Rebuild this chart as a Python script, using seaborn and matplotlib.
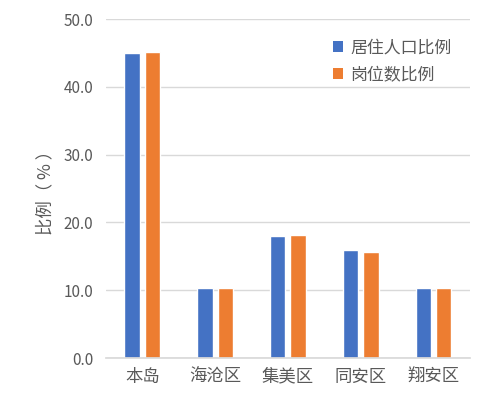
import matplotlib
matplotlib.use("Agg")
import matplotlib.pyplot as plt
import seaborn as sns
import pandas as pd
from matplotlib.ticker import FormatStrFormatter
from matplotlib.patches import Patch

categories = ["本岛", "海沧区", "集美区", "同安区", "翔安区"]
series_names = ["居住人口比例", "岗位数比例"]
resident = [45.0, 10.4, 18.0, 15.9, 10.4]
jobs = [45.2, 10.3, 18.2, 15.7, 10.3]
colors = ["#4472C4", "#ED7D31"]

sns.set_theme(style="white")
plt.rcParams["font.family"] = ["Noto Sans CJK SC", "DejaVu Sans"]

df = pd.DataFrame({
    "区域": categories * 2,
    "系列": [series_names[0]] * len(categories) + [series_names[1]] * len(categories),
    "比例": resident + jobs,
})

fig = plt.figure(figsize=(4.92, 3.98), dpi=100)
ax = fig.add_axes([0.2154, 0.1005, 0.955 - 0.2154, 0.952 - 0.1005])
sns.barplot(data=df, x="区域", y="比例", hue="系列",
            palette=colors, width=0.56, gap=0.24, ax=ax, legend=False,
            saturation=1)

text_color = "#595959"
ax.set_ylim(0, 50)
ax.set_yticks([0, 10, 20, 30, 40, 50])
ax.yaxis.set_major_formatter(FormatStrFormatter("%.1f"))
ax.grid(axis="y", color="#D9D9D9", linewidth=1)
ax.set_axisbelow(True)
for s in ["top", "right", "left"]:
    ax.spines[s].set_visible(False)
ax.spines["bottom"].set_color("#D9D9D9")
ax.tick_params(axis="both", length=0, colors=text_color)
ax.tick_params(axis="y", labelsize=11, pad=9)
ax.tick_params(axis="x", labelsize=12.5, pad=7)
ax.set_xlabel("")
ax.set_ylabel("比例（ % ）", color=text_color, fontsize=12.5)
ax.yaxis.set_label_coords(-0.143, 0.5)

handles = [Patch(facecolor=c, edgecolor="none") for c in colors]
ax.legend(handles, series_names, loc="upper left", frameon=False,
          fontsize=12.2, handlelength=0.6, handleheight=0.6,
          handletextpad=0.4, labelspacing=0.55, labelcolor=text_color,
          borderpad=0, borderaxespad=0,
          bbox_to_anchor=(0.624, 0.943))

fig.savefig("out.png", dpi=100)
